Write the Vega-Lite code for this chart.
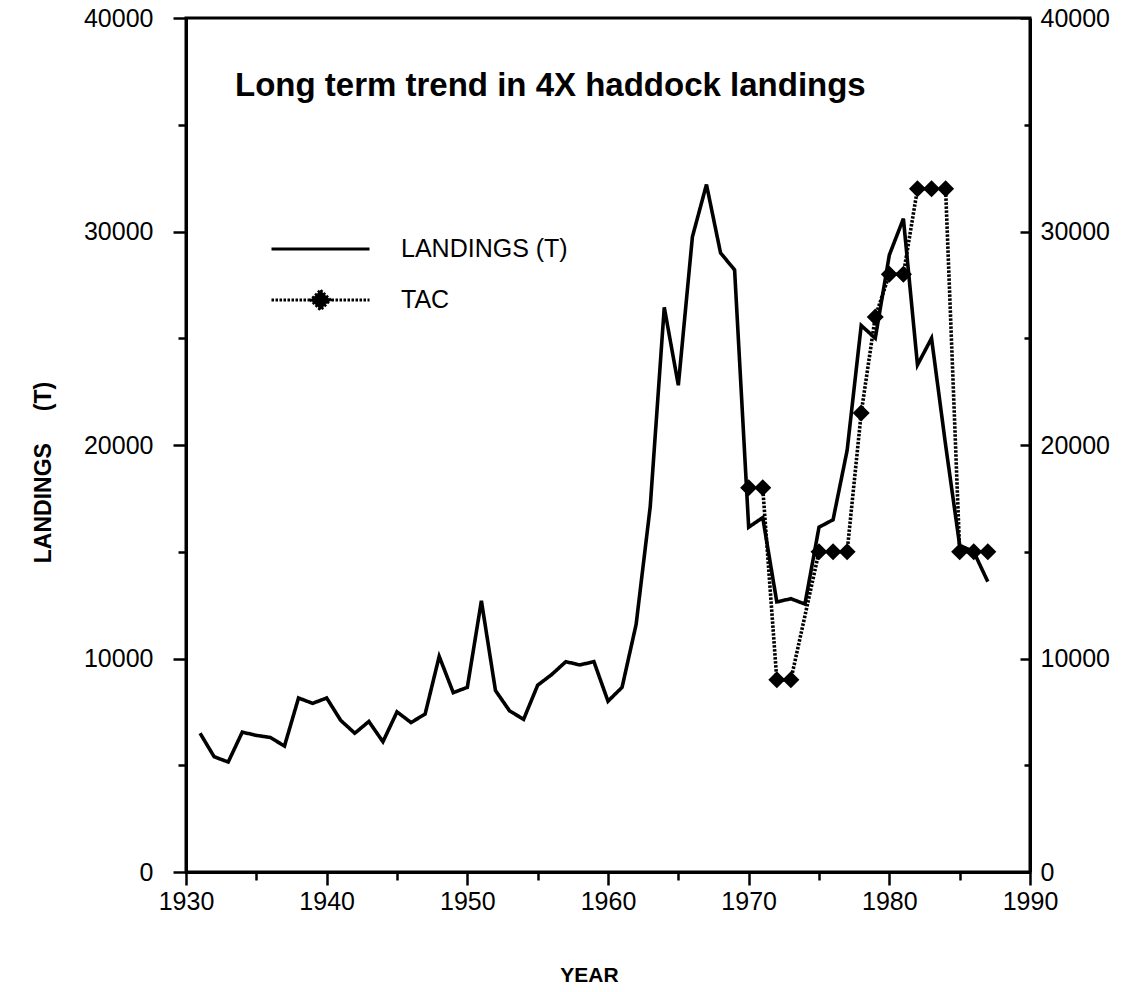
{
  "$schema": "https://vega.github.io/schema/vega-lite/v6.json",
  "width": 844,
  "height": 854,
  "autosize": {"type": "none"},
  "padding": {"left": 186, "top": 18, "right": 93, "bottom": 120},
  "background": "white",
  "config": {
    "view": {"stroke": "black", "strokeWidth": 3},
    "font": "Liberation Sans",
    "axis": {
      "grid": false,
      "domainColor": "black",
      "domainWidth": 3,
      "tickColor": "black",
      "tickWidth": 2.5,
      "labelColor": "black",
      "labelFont": "Liberation Sans",
      "labelFontSize": 25,
      "titleFont": "Liberation Sans",
      "titleFontWeight": "bold",
      "titleFontSize": 22,
      "titleColor": "black",
      "labelOverlap": false,
      "labelFlush": false
    }
  },
  "title": {
    "text": "Long term trend in 4X haddock landings",
    "anchor": "start",
    "frame": "group",
    "orient": "top",
    "baseline": "alphabetic",
    "offset": 0,
    "dx": 49,
    "dy": 123,
    "font": "Liberation Sans",
    "fontSize": 33,
    "fontWeight": "bold",
    "color": "black"
  },
  "data": {
    "values": [
      {"year": 1931, "series": "LANDINGS (T)", "tonnes": 6500},
      {"year": 1932, "series": "LANDINGS (T)", "tonnes": 5400},
      {"year": 1933, "series": "LANDINGS (T)", "tonnes": 5150},
      {"year": 1934, "series": "LANDINGS (T)", "tonnes": 6550},
      {"year": 1935, "series": "LANDINGS (T)", "tonnes": 6400},
      {"year": 1936, "series": "LANDINGS (T)", "tonnes": 6300},
      {"year": 1937, "series": "LANDINGS (T)", "tonnes": 5900},
      {"year": 1938, "series": "LANDINGS (T)", "tonnes": 8150},
      {"year": 1939, "series": "LANDINGS (T)", "tonnes": 7900},
      {"year": 1940, "series": "LANDINGS (T)", "tonnes": 8150},
      {"year": 1941, "series": "LANDINGS (T)", "tonnes": 7100},
      {"year": 1942, "series": "LANDINGS (T)", "tonnes": 6500},
      {"year": 1943, "series": "LANDINGS (T)", "tonnes": 7050},
      {"year": 1944, "series": "LANDINGS (T)", "tonnes": 6100},
      {"year": 1945, "series": "LANDINGS (T)", "tonnes": 7500},
      {"year": 1946, "series": "LANDINGS (T)", "tonnes": 7000},
      {"year": 1947, "series": "LANDINGS (T)", "tonnes": 7400},
      {"year": 1948, "series": "LANDINGS (T)", "tonnes": 10100},
      {"year": 1949, "series": "LANDINGS (T)", "tonnes": 8400},
      {"year": 1950, "series": "LANDINGS (T)", "tonnes": 8650},
      {"year": 1951, "series": "LANDINGS (T)", "tonnes": 12700},
      {"year": 1952, "series": "LANDINGS (T)", "tonnes": 8500},
      {"year": 1953, "series": "LANDINGS (T)", "tonnes": 7550},
      {"year": 1954, "series": "LANDINGS (T)", "tonnes": 7150},
      {"year": 1955, "series": "LANDINGS (T)", "tonnes": 8750},
      {"year": 1956, "series": "LANDINGS (T)", "tonnes": 9250},
      {"year": 1957, "series": "LANDINGS (T)", "tonnes": 9850},
      {"year": 1958, "series": "LANDINGS (T)", "tonnes": 9700},
      {"year": 1959, "series": "LANDINGS (T)", "tonnes": 9850},
      {"year": 1960, "series": "LANDINGS (T)", "tonnes": 8000},
      {"year": 1961, "series": "LANDINGS (T)", "tonnes": 8650},
      {"year": 1962, "series": "LANDINGS (T)", "tonnes": 11600},
      {"year": 1963, "series": "LANDINGS (T)", "tonnes": 17100},
      {"year": 1964, "series": "LANDINGS (T)", "tonnes": 26450},
      {"year": 1965, "series": "LANDINGS (T)", "tonnes": 22800},
      {"year": 1966, "series": "LANDINGS (T)", "tonnes": 29750},
      {"year": 1967, "series": "LANDINGS (T)", "tonnes": 32200},
      {"year": 1968, "series": "LANDINGS (T)", "tonnes": 29000},
      {"year": 1969, "series": "LANDINGS (T)", "tonnes": 28200},
      {"year": 1970, "series": "LANDINGS (T)", "tonnes": 16150},
      {"year": 1971, "series": "LANDINGS (T)", "tonnes": 16600},
      {"year": 1972, "series": "LANDINGS (T)", "tonnes": 12650},
      {"year": 1973, "series": "LANDINGS (T)", "tonnes": 12800},
      {"year": 1974, "series": "LANDINGS (T)", "tonnes": 12550},
      {"year": 1975, "series": "LANDINGS (T)", "tonnes": 16150},
      {"year": 1976, "series": "LANDINGS (T)", "tonnes": 16500},
      {"year": 1977, "series": "LANDINGS (T)", "tonnes": 19750},
      {"year": 1978, "series": "LANDINGS (T)", "tonnes": 25600},
      {"year": 1979, "series": "LANDINGS (T)", "tonnes": 25000},
      {"year": 1980, "series": "LANDINGS (T)", "tonnes": 28900},
      {"year": 1981, "series": "LANDINGS (T)", "tonnes": 30600},
      {"year": 1982, "series": "LANDINGS (T)", "tonnes": 23750},
      {"year": 1983, "series": "LANDINGS (T)", "tonnes": 25000},
      {"year": 1984, "series": "LANDINGS (T)", "tonnes": 20000},
      {"year": 1985, "series": "LANDINGS (T)", "tonnes": 15300},
      {"year": 1986, "series": "LANDINGS (T)", "tonnes": 15000},
      {"year": 1987, "series": "LANDINGS (T)", "tonnes": 13600},
      {"year": 1970, "series": "TAC", "tonnes": 18000},
      {"year": 1971, "series": "TAC", "tonnes": 18000},
      {"year": 1972, "series": "TAC", "tonnes": 9000},
      {"year": 1973, "series": "TAC", "tonnes": 9000},
      {"year": 1975, "series": "TAC", "tonnes": 15000},
      {"year": 1976, "series": "TAC", "tonnes": 15000},
      {"year": 1977, "series": "TAC", "tonnes": 15000},
      {"year": 1978, "series": "TAC", "tonnes": 21500},
      {"year": 1979, "series": "TAC", "tonnes": 26000},
      {"year": 1980, "series": "TAC", "tonnes": 28000},
      {"year": 1981, "series": "TAC", "tonnes": 28000},
      {"year": 1982, "series": "TAC", "tonnes": 32000},
      {"year": 1983, "series": "TAC", "tonnes": 32000},
      {"year": 1984, "series": "TAC", "tonnes": 32000},
      {"year": 1985, "series": "TAC", "tonnes": 15000},
      {"year": 1986, "series": "TAC", "tonnes": 15000},
      {"year": 1987, "series": "TAC", "tonnes": 15000}
    ]
  },
  "layer": [
    {
      "mark": {"type": "line", "color": "black", "strokeWidth": 3.6, "strokeJoin": "miter"},
      "encoding": {
        "x": {
          "field": "year",
          "type": "quantitative",
          "scale": {"domain": [1930, 1990], "nice": false, "zero": false},
          "axis": {
            "title": "YEAR",
            "values": [1930, 1935, 1940, 1945, 1950, 1955, 1960, 1965, 1970, 1975, 1980, 1985, 1990],
            "format": "d",
            "labelExpr": "datum.value % 10 === 0 ? datum.label : ''",
            "tickSize": {"condition": {"test": "datum.value % 10 === 0", "value": 13}, "value": 8},
            "labelPadding": 4,
            "titlePadding": 50,
            "titleX": 403,
            "titleFontSize": 21
          }
        },
        "y": {
          "field": "tonnes",
          "type": "quantitative",
          "scale": {"domain": [0, 40000], "nice": false},
          "axis": {
            "orient": "left",
            "title": "LANDINGS\u00a0\u00a0\u00a0\u00a0\u00a0(T)",
            "values": [0, 5000, 10000, 15000, 20000, 25000, 30000, 35000, 40000],
            "format": "d",
            "labelExpr": "datum.value % 10000 === 0 ? datum.label : ''",
            "tickSize": {"condition": {"test": "datum.value % 10000 === 0", "value": 13}, "value": 8},
            "labelPadding": 20,
            "titlePadding": 28,
            "titleY": 454,
            "titleFontSize": 23
          }
        },
        "strokeDash": {
          "field": "series",
          "type": "nominal",
          "scale": {"domain": ["LANDINGS (T)", "TAC"], "range": [[1, 0], [2.5, 1.5]]},
          "legend": {
            "orient": "none",
            "legendX": 84,
            "legendY": 216,
            "title": null,
            "symbolType": "M-1,0H1",
            "symbolSize": 9604,
            "symbolStrokeWidth": 3,
            "symbolStrokeColor": "black",
            "symbolFillColor": "black",
            "clipHeight": 30,
            "rowPadding": 21,
            "labelFontSize": 25,
            "labelLimit": 400,
            "labelOffset": 30,
            "labelColor": "black",
            "labelFont": "Liberation Sans",
            "encode": {
              "symbols": {
                "update": {
                  "shape": {"signal": "datum.value === 'TAC' ? 'M-1,0H1M0,-0.2L0.2,0L0,0.2L-0.2,0Z' : 'M-1,0H1'"},
                  "fill": {"value": "black"},
                  "stroke": {"value": "black"}
                }
              }
            }
          }
        }
      }
    },
    {
      "transform": [{"filter": "datum.series === 'TAC'"}],
      "mark": {"type": "point", "shape": "diamond", "filled": true, "color": "black", "size": 290, "opacity": 1},
      "encoding": {
        "x": {"field": "year", "type": "quantitative"},
        "y": {
          "field": "tonnes",
          "type": "quantitative",
          "axis": {
            "orient": "right",
            "title": null,
            "values": [0, 5000, 10000, 15000, 20000, 25000, 30000, 35000, 40000],
            "format": "d",
            "labelExpr": "datum.value % 10000 === 0 ? datum.label : ''",
            "tickSize": {"condition": {"test": "datum.value % 10000 === 0", "value": -10}, "value": -6},
            "labelPadding": 20
          }
        }
      }
    }
  ],
  "resolve": {"axis": {"y": "independent"}}
}
